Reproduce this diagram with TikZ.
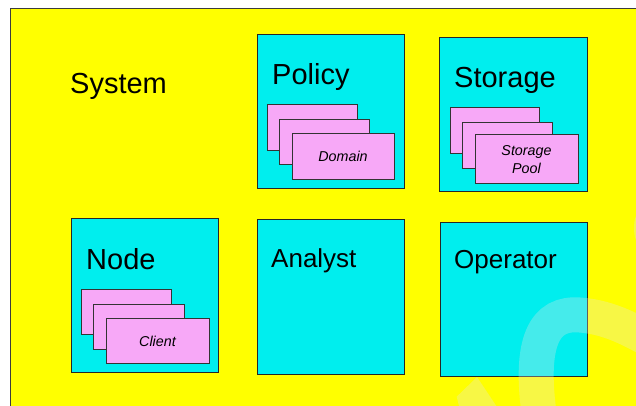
\documentclass[tikz,border=0pt]{standalone}
\usepackage{fontspec}
\setmainfont{Liberation Sans}
\definecolor{bgyellow}{RGB}{255,255,0}
\definecolor{boxcyan}{RGB}{0,238,238}
\definecolor{cardpink}{RGB}{247,168,247}
\definecolor{edgegray}{RGB}{60,60,60}
\definecolor{wmark}{RGB}{230,230,230}
\tikzset{
  bigbox/.style={draw=black!85, fill=boxcyan, line width=0.8pt, inner sep=0pt, anchor=north west},
  card/.style={draw=black!80, fill=cardpink, line width=0.8pt, inner sep=0pt, anchor=north west},
  bigtitle/.style={anchor=base west, inner sep=0pt, font=\fontsize{29}{34}\selectfont},
  midtitle/.style={anchor=base west, inner sep=0pt, font=\fontsize{26}{31}\selectfont},
  cardtext/.style={inner sep=0pt, align=center, font=\fontsize{14.3}{17.6}\selectfont\itshape},
  watermark/.style={fill=wmark, opacity=0.3}
}
\begin{document}
\begin{tikzpicture}[x=1pt,y=-1pt]
\useasboundingbox (0,0) rectangle (636,405);
% background
\draw[fill=bgyellow, draw=edgegray, line width=1pt] (10,8) rectangle (660,430);
\node[bigtitle] (system) at (70,93) {System};

% Policy
\node[bigbox, minimum width=147, minimum height=154] (policy) at (257,34) {};
\node[bigtitle] (policyt) at (272,84) {Policy};
\node[card, minimum width=90, minimum height=46] (pc1) at (267,104) {};
\node[card, minimum width=90, minimum height=45] (pc2) at (279,119) {};
\node[card, minimum width=102, minimum height=46] (pc3) at (292,133) {};
\node[cardtext, anchor=base] (domain) at (343,161.5) {Domain};

% Storage
\node[bigbox, minimum width=148, minimum height=154] (storage) at (439,37) {};
\node[bigtitle] (storaget) at (454,87) {Storage};
\node[card, minimum width=89, minimum height=46] (sc1) at (450,107) {};
\node[card, minimum width=90, minimum height=46] (sc2) at (462,122) {};
\node[card, minimum width=103, minimum height=49] (sc3) at (475,134) {};
\node[cardtext, anchor=base] (pool1) at (526.5,155.7) {Storage};
\node[cardtext, anchor=base] (pool2) at (526.5,173.3) {Pool};

% Node
\node[bigbox, minimum width=147, minimum height=154] (nodebox) at (71,218) {};
\node[bigtitle] (nodet) at (86,269) {Node};
\node[card, minimum width=90, minimum height=45] (nc1) at (81,289) {};
\node[card, minimum width=91, minimum height=45] (nc2) at (93,304) {};
\node[card, minimum width=103, minimum height=45] (nc3) at (106,318) {};
\node[cardtext, anchor=base] (client) at (157.5,346.5) {Client};

% Analyst
\node[bigbox, minimum width=147, minimum height=155] (analyst) at (257,219) {};
\node[midtitle] (analystt) at (271,267) {Analyst};

% Operator
\node[bigbox, minimum width=147, minimum height=154] (operator) at (440,222) {};
\node[midtitle] (operatort) at (454,268) {Operator};

% faint watermark
\begin{scope}
\clip (10,8) rectangle (636,405);
\draw[draw=wmark, opacity=0.3, line width=35pt]
  (540,420) .. controls (528,340) and (545,312) .. (580,315)
  .. controls (605,317) and (625,326) .. (650,340);
\fill[watermark] (460,410) -- (456.7,396.7) -- (477,377) -- (499,410) -- cycle;
\fill[watermark] (640,228) ellipse (6 and 16);
\end{scope}
\end{tikzpicture}
\end{document}
